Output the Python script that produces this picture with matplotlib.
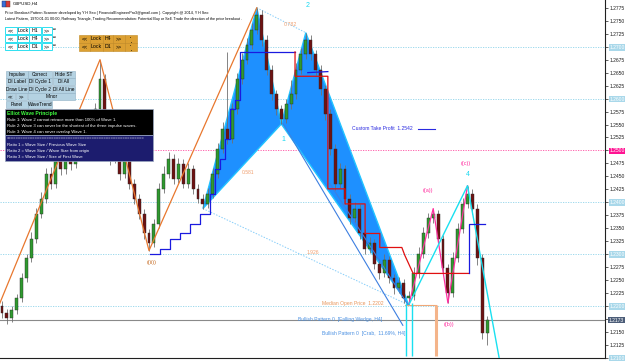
import matplotlib
matplotlib.use("Agg")
import matplotlib.pyplot as plt
from matplotlib.patches import Rectangle, Polygon
import matplotlib.transforms as mtransforms

plt.rcParams['font.family'] = ['Liberation Sans', 'DejaVu Sans']

# ---------------- data (GBPUSD, H4) ----------------
first_open = 1.2200
closes = [1.2187, 1.2177, 1.2192, 1.2215, 1.2254, 1.2292, 1.2330, 1.2378, 1.2407, 1.2455,
          1.2436, 1.2484, 1.2464, 1.2503, 1.2474, 1.2522, 1.2503, 1.2541, 1.2512, 1.2579,
          1.2637, 1.2560, 1.2484, 1.2503, 1.2455, 1.2484, 1.2436, 1.2407, 1.2378, 1.2340,
          1.2321, 1.2359, 1.2426, 1.2455, 1.2484, 1.2445, 1.2474, 1.2436, 1.2464, 1.2426,
          1.2407, 1.2397, 1.2416, 1.2455, 1.2503, 1.2541, 1.2522, 1.2579, 1.2637, 1.2675,
          1.2704, 1.2733, 1.2761, 1.2713, 1.2656, 1.2608, 1.2579, 1.2560, 1.2589, 1.2608,
          1.2656, 1.2685, 1.2713, 1.2685, 1.2656, 1.2618, 1.2570, 1.2503, 1.2436, 1.2464,
          1.2407, 1.2369, 1.2388, 1.2340, 1.2311, 1.2321, 1.2282, 1.2263, 1.2288, 1.2254,
          1.2234, 1.2244, 1.2215, 1.2219, 1.2263, 1.2301, 1.2340, 1.2369, 1.2378, 1.2330,
          1.2273, 1.2225, 1.2292, 1.2349, 1.2397, 1.2416, 1.2388, 1.2292, 1.2148, 1.2173]
highs = [1.2210, 1.2195, 1.2201, 1.2224, 1.2263, 1.2301, 1.2342, 1.2390, 1.2420, 1.2466,
         1.2468, 1.2495, 1.2497, 1.2515, 1.2512, 1.2534, 1.2531, 1.2553, 1.2550, 1.2592,
         1.2675, 1.2648, 1.2570, 1.2516, 1.2512, 1.2495, 1.2492, 1.2445, 1.2416, 1.2387,
         1.2349, 1.2368, 1.2438, 1.2470, 1.2498, 1.2494, 1.2486, 1.2483, 1.2476, 1.2472,
         1.2435, 1.2416, 1.2428, 1.2466, 1.2515, 1.2555, 1.2690, 1.2592, 1.2650, 1.2688,
         1.2716, 1.2745, 1.2775, 1.2770, 1.2722, 1.2665, 1.2617, 1.2588, 1.2600, 1.2635,
         1.2668, 1.2697, 1.2727, 1.2722, 1.2694, 1.2665, 1.2627, 1.2580, 1.2512, 1.2476,
         1.2472, 1.2416, 1.2400, 1.2397, 1.2348, 1.2333, 1.2330, 1.2291, 1.2300, 1.2296,
         1.2262, 1.2256, 1.2252, 1.2230, 1.2275, 1.2313, 1.2352, 1.2380, 1.2388, 1.2386,
         1.2338, 1.2282, 1.2304, 1.2360, 1.2408, 1.2432, 1.2425, 1.2396, 1.2300, 1.2181]
lows = [1.2178, 1.2165, 1.2170, 1.2185, 1.2208, 1.2246, 1.2285, 1.2322, 1.2370, 1.2398,
        1.2425, 1.2428, 1.2452, 1.2455, 1.2463, 1.2466, 1.2494, 1.2495, 1.2500, 1.2505,
        1.2570, 1.2548, 1.2472, 1.2476, 1.2444, 1.2447, 1.2425, 1.2396, 1.2368, 1.2330,
        1.2307, 1.2314, 1.2350, 1.2418, 1.2446, 1.2436, 1.2437, 1.2427, 1.2428, 1.2417,
        1.2398, 1.2388, 1.2390, 1.2409, 1.2447, 1.2495, 1.2512, 1.2514, 1.2570, 1.2628,
        1.2666, 1.2695, 1.2725, 1.2702, 1.2645, 1.2597, 1.2568, 1.2551, 1.2553, 1.2580,
        1.2600, 1.2648, 1.2676, 1.2674, 1.2645, 1.2607, 1.2558, 1.2492, 1.2424, 1.2428,
        1.2396, 1.2358, 1.2361, 1.2330, 1.2300, 1.2303, 1.2272, 1.2252, 1.2256, 1.2244,
        1.2224, 1.2226, 1.2206, 1.2202, 1.2212, 1.2255, 1.2293, 1.2332, 1.2360, 1.2320,
        1.2262, 1.2206, 1.2218, 1.2285, 1.2341, 1.2389, 1.2378, 1.2280, 1.2136, 1.2125]
opens = [first_open] + closes[:-1]

# harmonic (crab) pattern X, A, B, C, D
pat_idx = [41, 52, 57, 62, 83]
pat_px = [1.2388, 1.2775, 1.2551, 1.2727, 1.2202]
pat_ratio_labels = ["0.581", "0.782", "1.926"]

# orange wave zigzag
orange_idx = [-2, 20, 30, 52]
orange_px = [1.2170, 1.2675, 1.2307, 1.2775]

# cyan wave lines
cyan_idx = [83, 95, 101.5]
cyan_px = [1.2202, 1.2432, 1.2098]

# pink corrective zigzag ((a)) ((b)) ((c))
pink_idx = [83, 88, 91, 95]
pink_px = [1.2202, 1.2388, 1.2206, 1.2432]

# falling wedge lines
wedge1_idx = [57.4, 81.8]
wedge1_px = [1.2551, 1.2163]
wedge2_idx = [66.9, 82.9]
wedge2_px = [1.2436, 1.2202]

# trailing stop (blue = up, red = down)
blue1_idx = [30.2, 32.2, 32.2, 34.3, 34.3, 36.3, 36.3, 38.4, 38.4, 40.4, 40.4, 42.4, 42.4,
             43.5, 43.5, 44.5, 44.5, 45.5, 45.5, 46.5, 46.5, 47.6, 47.6, 48.6, 48.6, 59.8]
blue1_px = [1.2301, 1.2301, 1.2311, 1.2311, 1.2330, 1.2330, 1.2340, 1.2340, 1.2359, 1.2359,
            1.2378, 1.2378, 1.2416, 1.2416, 1.2464, 1.2464, 1.2484, 1.2484, 1.2522, 1.2522,
            1.2579, 1.2579, 1.2598, 1.2598, 1.2690, 1.2690]
red_idx = [59.8, 59.8, 66.5, 66.5, 70.0, 70.0, 74.1, 74.1, 77.1, 77.1, 81.6, 82.2, 83.9, 95.3]
red_px = [1.2690, 1.2643, 1.2643, 1.2426, 1.2426, 1.2397, 1.2397, 1.2340, 1.2340, 1.2313,
          1.2313, 1.2298, 1.2263, 1.2263]
blue2_idx = [62.4, 66.5]
blue2_px = [1.2650, 1.2652]
blue3_idx = [95.3, 95.3, 98.6]
blue3_px = [1.2263, 1.2359, 1.2359]

# levels
blue_levels = [1.2700, 1.2600, 1.2400, 1.2300, 1.2200]
magenta_level = 1.2500
current_price = 1.2173
take_profit = 1.2542
median_open = 1.2202
tick_values = [round(1.2100 + 0.0025 * k, 4) for k in range(28)]
highlight_ticks = [1.2700, 1.2600, 1.2400, 1.2300, 1.2200, 1.2100]

# ---------------- figure ----------------
W, H = 625, 361
fig = plt.figure(figsize=(6.25, 3.61), dpi=100)
ax = fig.add_axes([0, 3 / H, 605 / W, 358 / H])
ax.set_xlim(-0.41, 123.06)
ax.set_ylim(1.2104, 1.2790)

for s in ['left', 'top']:
    ax.spines[s].set_visible(False)
for s in ['right', 'bottom']:
    ax.spines[s].set_color('#202020')
    ax.spines[s].set_linewidth(0.8)
ax.set_xticks([])
ax.yaxis.tick_right()
ax.set_yticks(tick_values)
ax.set_yticklabels([f"{v:.4f}" for v in tick_values], fontsize=3.6)
ax.tick_params(axis='y', length=2, width=0.5, pad=1.5, colors='#202020')
for lab, v in zip(ax.get_yticklabels(), tick_values):
    if any(abs(v - h) < 1e-6 for h in highlight_ticks):
        lab.set_bbox(dict(facecolor='#a9d8ea', edgecolor='none', pad=0.6))
        lab.set_color('white')
    if abs(v - magenta_level) < 1e-6:
        lab.set_bbox(dict(facecolor='#ff1493', edgecolor='none', pad=0.6))
        lab.set_color('white')

trans = mtransforms.blended_transform_factory(ax.transAxes, ax.transData)
ax.text(1.006, current_price, f"{current_price:.4f}", transform=trans, fontsize=3.6,
        color='white', va='center', ha='left', clip_on=False,
        bbox=dict(facecolor='#4c5d78', edgecolor='none', pad=0.6), zorder=20)

# dotted levels
for lv in blue_levels:
    ax.axhline(lv, color='#8fd3ea', lw=0.6, ls=(0, (1.5, 1.5)), zorder=1)
ax.axhline(magenta_level, color='#ff4fa3', lw=0.6, ls=(0, (1.5, 1.5)), zorder=1)
ax.axhline(current_price, color='#8a8a8a', lw=0.8, zorder=1)

# harmonic pattern fills
X, A, B, C, D = list(zip(pat_idx, pat_px))
ax.add_patch(Polygon([X, A, B], closed=True, facecolor='#1e90ff', edgecolor='#22c4ff',
                     lw=1.0, zorder=2))
ax.add_patch(Polygon([B, C, D], closed=True, facecolor='#1e90ff', edgecolor='#22c4ff',
                     lw=1.0, zorder=2))
ax.plot([X[0], D[0]], [X[1], D[1]], color='#87cefa', lw=0.7, ls=(0, (1.5, 1.5)), zorder=2)
ax.plot([A[0], C[0]], [A[1], C[1]], color='#87cefa', lw=0.7, ls=(0, (1.5, 1.5)), zorder=2)

# candles
for i in range(len(closes)):
    o, c, hi, lo = opens[i], closes[i], highs[i], lows[i]
    ax.vlines(i, lo, hi, color='#707070', lw=0.6, zorder=4)
    bull = c >= o
    fc = '#2f9a2f' if bull else '#6e1212'
    bottom = min(o, c)
    h = max(abs(c - o), 0.00012)
    ax.add_patch(Rectangle((i - 0.3, bottom), 0.6, h, facecolor=fc, edgecolor='#2a2a2a',
                           lw=0.3, zorder=4))

# wave lines
ax.plot(orange_idx, orange_px, color='#e8772e', lw=0.9, zorder=5)
ax.plot(pink_idx, pink_px, color='#ff2fa0', lw=0.9, zorder=5)
ax.plot(cyan_idx, cyan_px, color='#19e0f0', lw=1.0, zorder=5)
ax.plot(wedge1_idx, wedge1_px, color='#3d7fe0', lw=0.8, zorder=5)
ax.plot(wedge2_idx, wedge2_px, color='#3d7fe0', lw=0.8, zorder=5)

# trailing stop lines
ax.plot(blue1_idx, blue1_px, color='#1a1adf', lw=0.9, zorder=6)
ax.plot(red_idx, red_px, color='#e01010', lw=0.9, zorder=6)
ax.plot(blue2_idx, blue2_px, color='#1a1adf', lw=0.9, zorder=6)
ax.plot(blue3_idx, blue3_px, color='#1a1adf', lw=0.9, zorder=6)

# take profit
ax.plot([84.9, 88.4], [take_profit, take_profit], color='#2a2ae0', lw=0.8, zorder=6)
ax.text(71.4, take_profit, f"Custom Take Profit  {take_profit:.4f}", fontsize=3.6,
        color='#2a2ae0', va='center', ha='left', zorder=7)

# median open / vertical markers
ax.plot([82.2, 88.6], [median_open, median_open], color='#f0a878', lw=0.8, zorder=6)
ax.vlines(88.6, 1.2104, median_open, color='#f4b48a', lw=2.2, zorder=6)
ax.vlines([82.4, 83.7], 1.2104, 1.2206, color='#19e0f0', lw=1.0, zorder=6)
ax.text(65.3, median_open + 0.0003, f"Median Open Price  {median_open:.4f}", fontsize=3.6,
        color='#e8955a', va='center', ha='left', zorder=7)
ax.text(60.4, 1.2174, "Bullish Pattern 0  [Falling Wedge, H4]", fontsize=3.6,
        color='#4a90e2', va='center', ha='left', zorder=7)
ax.text(65.3, 1.2147, "Bullish Pattern 0  [Crab,  11.69%, H4]", fontsize=3.6,
        color='#4a90e2', va='center', ha='left', zorder=7)

# ratio labels
ax.text(50.3, 1.2458, pat_ratio_labels[0], fontsize=3.6, color='#f0a070', ha='center', va='center', zorder=7)
ax.text(58.8, 1.2743, pat_ratio_labels[1], fontsize=3.8, color='#f0a070', ha='center', va='center', zorder=7)
ax.text(63.5, 1.2304, pat_ratio_labels[2], fontsize=3.6, color='#f0a070', ha='center', va='center', zorder=7)

# wave labels
ax.text(62.3, 1.2779, "2", fontsize=5, color='#19d8f0', ha='center', va='center', zorder=7)
ax.text(57.4, 1.2522, "1", fontsize=5, color='#19d8f0', ha='center', va='center', zorder=7)
ax.text(95.0, 1.2453, "4", fontsize=5, color='#19d8f0', ha='center', va='center', zorder=7)
ax.text(30.6, 1.2285, "((ii))", fontsize=4, color='#c8702a', ha='center', va='center', zorder=7)
ax.text(87.0, 1.2422, "((a))", fontsize=4, color='#ff2fa0', ha='center', va='center', zorder=7)
ax.text(91.2, 1.2164, "((b))", fontsize=4, color='#ff2fa0', ha='center', va='center', zorder=7)
ax.text(94.6, 1.2475, "((c))", fontsize=4, color='#ff2fa0', ha='center', va='center', zorder=7)

# ---------------- overlay UI (pixel coordinates) ----------------
def fx(x):
    return x / W

def fy(y):
    return 1 - y / H

def box(x0, y0, x1, y1, fc, ec, lw=0.5, z=30):
    fig.patches.append(Rectangle((fx(x0), fy(y1)), (x1 - x0) / W, (y1 - y0) / H,
                                 transform=fig.transFigure, facecolor=fc, edgecolor=ec,
                                 lw=lw, zorder=z))

def label(x, y, s, size=3.8, color='black', ha='center', weight='normal', z=31):
    fig.text(fx(x), fy(y), s, fontsize=size, color=color, ha=ha, va='center',
             fontweight=weight, zorder=z)

# title
box(2, 1, 6, 7, '#3a6fd8', '#203060', lw=0.3)
box(6, 1, 10, 7, '#d83a3a', '#603020', lw=0.3)
label(13, 4, "GBPUSD,H4", size=3.2, ha='left')
label(5, 13, "Price Breakout Pattern Scanner developed by Y H Seo ( FinancialEngineerPro3@gmail.com ). "
      "Copyright @ 2014, Y H Seo", size=2.7, ha='left')
label(5, 19, "Latest Pattern, 1970.01.01 00:00, Rathway Triangle, Trading Recommendation: Potential Buy "
      "or Sell. Trade the direction of the price breakout .", size=2.7, ha='left')

# cyan lock buttons
rows_tf = ["H1", "H4", "D1"]
row_y = [27, 35, 43]
cells = [(5, 17, "<<"), (17, 29, "Lock"), (29, 41, None), (42, 52, ">>")]
for tf, y0 in zip(rows_tf, row_y):
    for x0, x1, t in cells:
        box(x0, y0, x1, y0 + 7, 'white', '#2ee0f0', lw=0.7)
        label((x0 + x1) / 2, y0 + 3.6, t if t else tf, size=3.8)
    label(55, y0 + 2.5, "◘◘", size=2.2, color='#404040')

# orange lock buttons
for tf, y0 in zip(["H4", "D1"], [35, 43]):
    for x0, x1, t in [(79, 90, "<<"), (90, 103, "Lock"), (103, 113, None), (113, 125, ">>"), (125, 137, "▪▪\n▪")]:
        box(x0, y0, x1, y0 + 7.5, '#dca032', '#c08820', lw=0.4)
        label((x0 + x1) / 2, y0 + 3.8, t if t else tf, size=3.8 if t != "▪▪\n▪" else 2.0)

# grey-blue control buttons
btn_rows = [
    (71, [(6, 28, "Impulse"), (28, 52, "Correct"), (53, 75, "Hide ST")]),
    (78, [(6, 28, "Dl Label"), (28, 52, "Dl Cycle 1"), (53, 75, "Dl All")]),
    (86, [(6, 28, "Draw Line"), (28, 52, "Dl Cycle 2"), (53, 75, "Dl All Line")]),
    (93, [(6, 15, "<<"), (16, 27, ">>"), (28, 75, "Minor")]),
    (101, [(6, 28, "Panel"), (28, 52, "WaveTrend")]),
]
for y0, cl in btn_rows:
    for x0, x1, t in cl:
        box(x0, y0, x1, y0 + 7, '#b4d2e2', '#8fb0c4', lw=0.4)
        label((x0 + x1) / 2, y0 + 3.6, t, size=3.4)

# Elliott wave info panel
box(5, 109, 153, 135, 'black', '#9aa8c0', lw=0.5)
box(5, 135, 153, 161, '#1c1c6e', '#9aa8c0', lw=0.5)
label(7, 114, "Elliot Wave Principle", size=3.6, color='#40ff40', ha='left', weight='bold')
label(7, 119.5, "Rule 1: Wave 2 cannot retrace more than 100% of Wave 1.", size=3.1, color='white', ha='left')
label(7, 125.5, "Rule 2: Wave 3 can never be the shortest of the three impulse waves.", size=3.1, color='white', ha='left')
label(7, 131.5, "Rule 3: Wave 4 can never overlap Wave 1.", size=3.1, color='white', ha='left')
label(7, 138.5, "=" * 58, size=3.0, color='white', ha='left')
label(7, 144.5, "Ratio 1 = Wave Size / Previous Wave Size", size=3.1, color='white', ha='left')
label(7, 151, "Ratio 2 = Wave Size / Wave Size from origin", size=3.1, color='white', ha='left')
label(7, 157.5, "Ratio 3 = Wave Size / Size of First Wave", size=3.1, color='white', ha='left')

fig.savefig("out.png", dpi=100, facecolor='white')
